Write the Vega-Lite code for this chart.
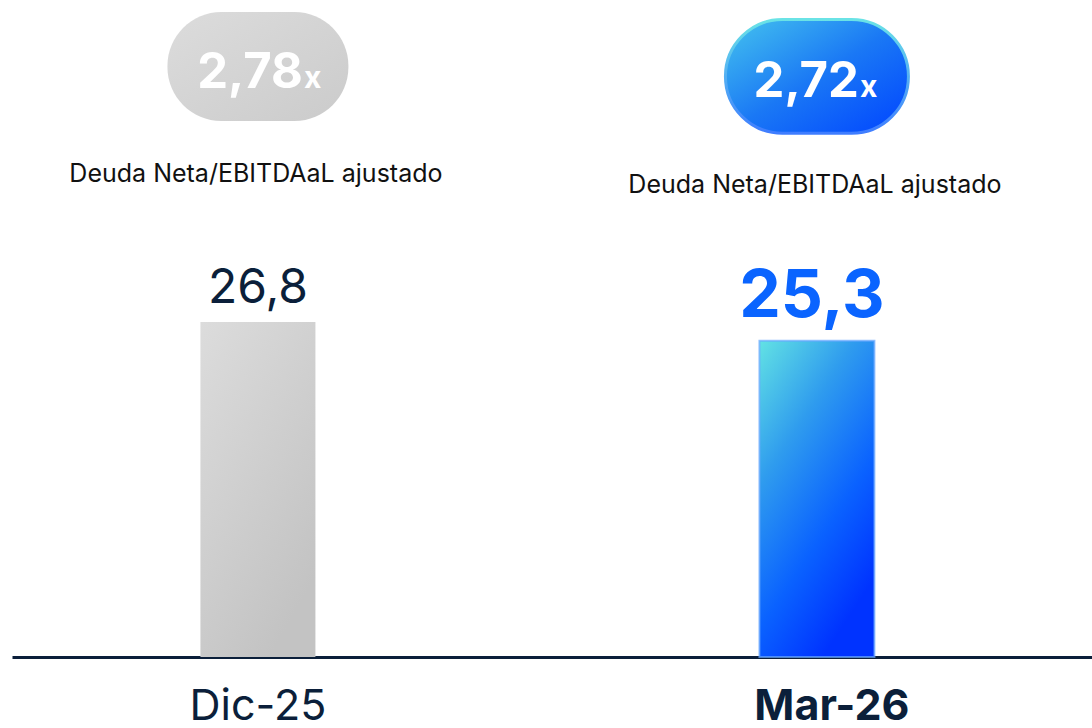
{
  "$schema": "https://vega.github.io/schema/vega-lite/v6.json",
  "width": 1080,
  "height": 657,
  "autosize": {"type": "none"},
  "padding": {"left": 12, "top": 0, "right": 0, "bottom": 71},
  "background": "#ffffff",
  "config": {
    "view": {"stroke": null},
    "font": "Inter",
    "locale": {"number": {"decimal": ",", "thousands": ".", "grouping": [3], "currency": ["", " €"]}}
  },
  "data": {"values": [
    {"period": "Dic-25", "value": 26.8, "ratio": 2.78},
    {"period": "Mar-26", "value": 25.3, "ratio": 2.72}
  ]},
  "encoding": {
    "x": {
      "field": "period", "type": "nominal", "sort": null,
      "scale": {"paddingInner": 0.6, "paddingOuter": 0.266, "align": 0.451},
      "axis": {
        "title": null, "grid": false, "ticks": false, "tickSize": 0,
        "domainColor": "#0b1f3a", "domainWidth": 3,
        "labelAngle": 0,
        "labelFont": "Inter", "labelFontSize": 43, "labelColor": "#0b1f3a",
        "labelPadding": 28,
        "labelFontWeight": {"condition": {"test": "datum.value === 'Mar-26'", "value": "bold"}, "value": "normal"},
        "labelOffset": {"condition": {"test": "datum.value === 'Mar-26'", "value": 15}, "value": 0}
      }
    }
  },
  "layer": [
    {
      "transform": [{"filter": "datum.period === 'Dic-25'"}],
      "mark": {"type": "bar", "width": 115,
        "color": {"gradient": "linear", "x1": 0, "y1": 0, "x2": 0.6, "y2": 1,
          "stops": [{"offset": 0, "color": "#dcdcdc"}, {"offset": 1, "color": "#c3c3c3"}]}},
      "encoding": {"y": {"field": "value", "type": "quantitative", "scale": {"domain": [0, 52.56], "nice": false, "zero": true}, "axis": null}}
    },
    {
      "transform": [{"filter": "datum.period === 'Mar-26'"}],
      "mark": {"type": "bar", "width": 115,
        "color": {"gradient": "linear", "x1": 0, "y1": 0, "x2": 0.55, "y2": 1,
          "stops": [{"offset": 0, "color": "#62e2e4"}, {"offset": 0.35, "color": "#2f9cee"}, {"offset": 0.7, "color": "#0a62ff"}, {"offset": 1, "color": "#0033ff"}]},
        "stroke": "#6aa8ff", "strokeWidth": 2, "strokeOpacity": 0.7},
      "encoding": {"y": {"field": "value", "type": "quantitative"}}
    },
    {
      "transform": [{"filter": "datum.period === 'Dic-25'"}],
      "mark": {"type": "bar", "width": 181, "cornerRadius": 54,
        "color": {"gradient": "linear", "x1": 0, "y1": 0, "x2": 1, "y2": 1,
          "stops": [{"offset": 0, "color": "#dcdcdc"}, {"offset": 1, "color": "#cbcbcb"}]}},
      "encoding": {"y": {"datum": 51.6, "type": "quantitative"}, "y2": {"datum": 42.88}}
    },
    {
      "transform": [{"filter": "datum.period === 'Mar-26'"}],
      "mark": {"type": "bar", "width": 183, "cornerRadius": 57,
        "color": {"gradient": "linear", "x1": 0, "y1": 0, "x2": 1, "y2": 1,
          "stops": [{"offset": 0, "color": "#45c4ee"}, {"offset": 0.5, "color": "#1a78f5"}, {"offset": 1, "color": "#0044ff"}]},
        "stroke": {"gradient": "linear", "x1": 0, "y1": 0, "x2": 0, "y2": 1,
          "stops": [{"offset": 0, "color": "#6ae3e6"}, {"offset": 1, "color": "#3f7dff"}]},
        "strokeWidth": 3},
      "encoding": {"y": {"datum": 51.0, "type": "quantitative"}, "y2": {"datum": 41.9}}
    },
    {
      "transform": [{"filter": "datum.period === 'Dic-25'"}],
      "mark": {"type": "text", "font": "Inter", "fontWeight": "bold", "fontSize": 49, "color": "#ffffff", "align": "right", "baseline": "alphabetic", "dx": 45},
      "encoding": {"y": {"datum": 45.52, "type": "quantitative"}, "text": {"field": "ratio", "type": "quantitative", "format": ".2f"}}
    },
    {
      "transform": [{"filter": "datum.period === 'Mar-26'"}],
      "mark": {"type": "text", "font": "Inter", "fontWeight": "bold", "fontSize": 49, "color": "#ffffff", "align": "right", "baseline": "alphabetic", "dx": 42},
      "encoding": {"y": {"datum": 44.8, "type": "quantitative"}, "text": {"field": "ratio", "type": "quantitative", "format": ".2f"}}
    },
    {
      "transform": [{"filter": "datum.period === 'Dic-25'"}],
      "mark": {"type": "text", "font": "Inter", "fontWeight": "bold", "fontSize": 30, "color": "#ffffff", "align": "left", "baseline": "alphabetic", "dx": 46, "text": "x"},
      "encoding": {"y": {"datum": 45.52, "type": "quantitative"}}
    },
    {
      "transform": [{"filter": "datum.period === 'Mar-26'"}],
      "mark": {"type": "text", "font": "Inter", "fontWeight": "bold", "fontSize": 30, "color": "#ffffff", "align": "left", "baseline": "alphabetic", "dx": 43, "text": "x"},
      "encoding": {"y": {"datum": 44.8, "type": "quantitative"}}
    },
    {
      "transform": [{"filter": "datum.period === 'Dic-25'"}],
      "mark": {"type": "text", "font": "Inter", "fontSize": 25, "color": "#111111", "align": "center", "baseline": "alphabetic", "dx": -2, "text": "Deuda Neta/EBITDAaL ajustado"},
      "encoding": {"y": {"datum": 38.0, "type": "quantitative"}}
    },
    {
      "transform": [{"filter": "datum.period === 'Mar-26'"}],
      "mark": {"type": "text", "font": "Inter", "fontSize": 25, "color": "#111111", "align": "center", "baseline": "alphabetic", "dx": -2, "text": "Deuda Neta/EBITDAaL ajustado"},
      "encoding": {"y": {"datum": 37.12, "type": "quantitative"}}
    },
    {
      "transform": [{"filter": "datum.period === 'Dic-25'"}],
      "mark": {"type": "text", "font": "Inter", "fontSize": 48, "color": "#0b1f3a", "align": "center", "baseline": "alphabetic", "dy": -19},
      "encoding": {"y": {"field": "value", "type": "quantitative"}, "text": {"field": "value", "type": "quantitative", "format": ".1f"}}
    },
    {
      "transform": [{"filter": "datum.period === 'Mar-26'"}],
      "mark": {"type": "text", "font": "Inter", "fontWeight": "bold", "fontSize": 66, "color": "#0a64ff", "align": "center", "baseline": "alphabetic", "dy": -24, "dx": -5},
      "encoding": {"y": {"field": "value", "type": "quantitative"}, "text": {"field": "value", "type": "quantitative", "format": ".1f"}}
    }
  ]
}
